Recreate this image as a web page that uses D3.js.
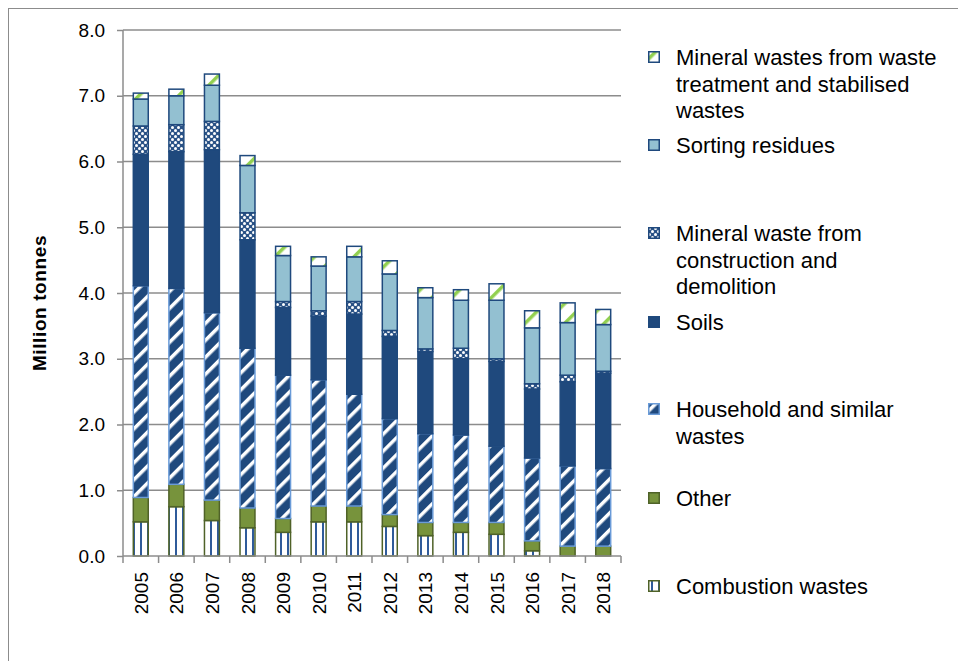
<!DOCTYPE html>
<html>
<head>
<meta charset="utf-8">
<script src="https://cdn.jsdelivr.net/npm/d3@7"></script>
<style>
  body { margin: 0; background: #fff; }
  text { font-family: "Liberation Sans", Arial, sans-serif; fill: #000; }
</style>
</head>
<body>
<svg id="waste_chart"></svg>
<script>
// categories
var years = ["2005", "2006", "2007", "2008", "2009", "2010", "2011",
             "2012", "2013", "2014", "2015", "2016", "2017", "2018"];

// series values, million tonnes (bottom to top)
var combustion = [0.52, 0.75, 0.54, 0.43, 0.36, 0.52, 0.52, 0.45, 0.31, 0.36, 0.33, 0.08, 0.00, 0.00];
var other      = [0.37, 0.34, 0.31, 0.30, 0.21, 0.24, 0.24, 0.18, 0.20, 0.15, 0.18, 0.15, 0.15, 0.15];
var household  = [3.22, 2.98, 2.85, 2.43, 2.18, 1.92, 1.70, 1.46, 1.35, 1.33, 1.16, 1.26, 1.22, 1.18];
var soils      = [2.00, 2.08, 2.48, 1.65, 1.03, 0.97, 1.22, 1.25, 1.25, 1.16, 1.29, 1.05, 1.28, 1.45];
var construction = [0.43, 0.41, 0.43, 0.41, 0.09, 0.08, 0.19, 0.09, 0.04, 0.16, 0.04, 0.08, 0.10, 0.03];
var sorting    = [0.41, 0.44, 0.55, 0.72, 0.70, 0.68, 0.68, 0.86, 0.78, 0.73, 0.89, 0.85, 0.80, 0.71];
var treatment  = [0.09, 0.10, 0.17, 0.15, 0.14, 0.14, 0.16, 0.20, 0.15, 0.16, 0.25, 0.26, 0.30, 0.23];

var y_ticks = [0, 1, 2, 3, 4, 5, 6, 7, 8];

var series_keys = ["combustion", "other", "household", "soils", "construction", "sorting", "treatment"];
var series_values = {combustion: combustion, other: other, household: household, soils: soils,
                     construction: construction, sorting: sorting, treatment: treatment};

// legend, top to bottom
var legend_items = [
  {key: "treatment", lines: ["Mineral wastes from waste", "treatment and stabilised", "wastes"]},
  {key: "sorting", lines: ["Sorting residues"]},
  {key: "construction", lines: ["Mineral waste from", "construction and", "demolition"]},
  {key: "soils", lines: ["Soils"]},
  {key: "household", lines: ["Household and similar", "wastes"]},
  {key: "other", lines: ["Other"]},
  {key: "combustion", lines: ["Combustion wastes"]}
];
var legend_y = [57, 145, 233, 322, 409, 498, 586];

var svg = d3.select("#waste_chart")
  .attr("width", 958)
  .attr("height", 661);

// patterns
var defs = svg.append("defs");

var p = defs.append("pattern").attr("id", "p_combustion")
  .attr("patternUnits", "userSpaceOnUse").attr("width", 7).attr("height", 7);
p.append("rect").attr("width", 7).attr("height", 7).attr("fill", "#fff");
p.append("rect").attr("x", 3).attr("width", 2).attr("height", 7).attr("fill", "#2f5b9a");

p = defs.append("pattern").attr("id", "p_household")
  .attr("patternUnits", "userSpaceOnUse").attr("width", 12).attr("height", 12)
  .attr("patternTransform", "rotate(-45)");
p.append("rect").attr("width", 12).attr("height", 12).attr("fill", "#1f497d");
p.append("rect").attr("y", 0).attr("width", 12).attr("height", 3.5).attr("fill", "#fff");

p = defs.append("pattern").attr("id", "p_construction")
  .attr("patternUnits", "userSpaceOnUse").attr("width", 6).attr("height", 6);
p.append("rect").attr("width", 6).attr("height", 6).attr("fill", "#2a5286");
p.append("circle").attr("cx", 1.5).attr("cy", 1.5).attr("r", 1.5).attr("fill", "#fff");
p.append("circle").attr("cx", 4.5).attr("cy", 4.5).attr("r", 1.5).attr("fill", "#fff");

p = defs.append("pattern").attr("id", "p_treatment")
  .attr("patternUnits", "userSpaceOnUse").attr("width", 14).attr("height", 14)
  .attr("patternTransform", "rotate(-45)");
p.append("rect").attr("width", 14).attr("height", 14).attr("fill", "#fff");
p.append("rect").attr("y", 0).attr("width", 14).attr("height", 3.5).attr("fill", "#92d050");

var fills = {
  combustion: "url(#p_combustion)",
  other: "#77933c",
  household: "url(#p_household)",
  soils: "#1f497d",
  construction: "url(#p_construction)",
  sorting: "#93c0d1",
  treatment: "url(#p_treatment)"
};
var strokes = {
  combustion: "#4f6228",
  other: "#4f6228",
  household: "#6a9bd8",
  soils: "#1f497d",
  construction: "#1f497d",
  sorting: "#1f497d",
  treatment: "#1f497d"
};

// outer chart border
svg.append("rect")
  .attr("x", 8.5).attr("y", 8.5)
  .attr("width", 1000).attr("height", 700)
  .attr("fill", "none")
  .attr("stroke", "#8c8c8c")
  .attr("stroke-width", 1);

var margin = {top: 30, left: 123},
  width = 498,
  height = 526;

var g = svg.append("g")
  .attr("transform", "translate(" + margin.left + "," + margin.top + ")");

var x = d3.scaleBand()
  .domain(years)
  .range([0, width])
  .paddingInner(0.58)
  .paddingOuter(0.29);

var y = d3.scaleLinear()
  .domain([0, 8])
  .range([height, 0]);

// gridlines
g.append("g")
  .selectAll("line")
  .data(y_ticks.slice(1))
  .enter()
  .append("line")
  .attr("x1", 0).attr("x2", width)
  .attr("y1", d => y(d)).attr("y2", d => y(d))
  .attr("stroke", "#8c8c8c")
  .attr("stroke-width", 1.5);

// stacked data
var table = years.map(function(yr, i) {
  var row = {year: yr};
  series_keys.forEach(function(k) { row[k] = series_values[k][i]; });
  return row;
});
var stacked = d3.stack().keys(series_keys)(table);

g.append("g")
  .selectAll("g")
  .data(stacked)
  .enter()
  .append("g")
  .attr("fill", d => fills[d.key])
  .attr("stroke", d => strokes[d.key])
  .attr("stroke-width", 1.5)
  .selectAll("rect")
  .data(d => d.filter(s => s[1] - s[0] > 0))
  .enter()
  .append("rect")
  .attr("x", d => x(d.data.year))
  .attr("width", x.bandwidth())
  .attr("y", d => y(d[1]))
  .attr("height", d => y(d[0]) - y(d[1]));

// y axis
var yAxis = g.append("g")
  .call(d3.axisLeft(y).tickValues(y_ticks).tickFormat(d3.format(".1f")).tickSize(6).tickPadding(12));
yAxis.select(".domain").attr("stroke", "#8c8c8c").attr("stroke-width", 1.5).attr("d", "M0,0V" + height);
yAxis.selectAll(".tick line").attr("stroke", "#8c8c8c").attr("stroke-width", 1.5);
yAxis.selectAll(".tick text").attr("font-size", "19px").attr("fill", "#000");

// x axis, ticks between categories
var xg = g.append("g").attr("transform", "translate(0," + height + ")");
xg.append("line")
  .attr("x1", 0).attr("x2", width)
  .attr("stroke", "#8c8c8c").attr("stroke-width", 1.5);
xg.selectAll(".sep")
  .data(d3.range(years.length + 1))
  .enter()
  .append("line")
  .attr("class", "sep")
  .attr("x1", d => d * width / years.length)
  .attr("x2", d => d * width / years.length)
  .attr("y1", 0).attr("y2", 7)
  .attr("stroke", "#8c8c8c").attr("stroke-width", 1.5);
xg.selectAll(".yr")
  .data(years)
  .enter()
  .append("text")
  .attr("class", "yr")
  .attr("transform", d => "translate(" + (x(d) + x.bandwidth() / 2 + 7) + ",16) rotate(-90)")
  .attr("text-anchor", "end")
  .attr("font-size", "19px")
  .text(d => d);

// y axis title
svg.append("text")
  .attr("transform", "translate(46,303) rotate(-90)")
  .attr("text-anchor", "middle")
  .attr("font-size", "19px")
  .attr("font-weight", "bold")
  .attr("letter-spacing", "0.6px")
  .text("Million tonnes");

// legend
var legend = svg.append("g")
  .selectAll("g")
  .data(legend_items)
  .enter()
  .append("g")
  .attr("transform", (d, i) => "translate(648," + legend_y[i] + ")");

legend.append("rect")
  .attr("x", 0.75).attr("y", -5.25)
  .attr("width", 10.5).attr("height", 10.5)
  .attr("fill", d => fills[d.key])
  .attr("stroke", d => strokes[d.key])
  .attr("stroke-width", 1.5);

legend.selectAll("text")
  .data(d => d.lines)
  .enter()
  .append("text")
  .attr("x", 28)
  .attr("y", (d, i) => 8 + i * 26.5)
  .attr("font-size", "22px")
  .text(d => d);
</script>
</body>
</html>
